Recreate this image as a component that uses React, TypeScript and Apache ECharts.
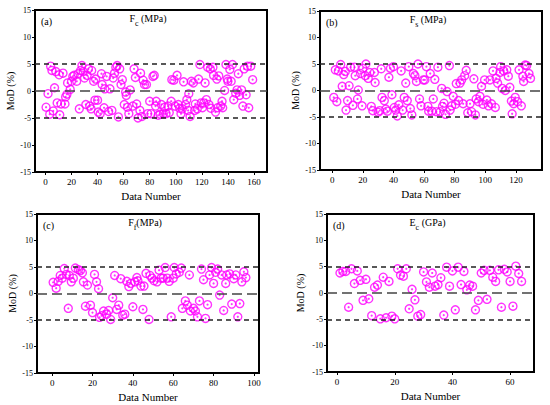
import React, { useEffect, useRef } from "react";
import * as echarts from "echarts";

const FONT = "Liberation Serif, Times New Roman, serif";
const MAGENTA = "#ff00ff";

const yTicks = [-15, -10, -5, 0, 5, 10, 15];
const refLines = [5, 0, -5];

const xTicksA = [0, 20, 40, 60, 80, 100, 120, 140, 160];
const xTicksB = [0, 20, 40, 60, 80, 100, 120];
const xTicksC = [0, 20, 40, 60, 80, 100];
const xTicksD = [0, 20, 40, 60];

const panelA: [number, number][] = [
  [0.5, -3.0], [2, -0.5], [3.3, -4.3], [4, 4.6], [5, 3.8], [6, -3.7], [7, 0.6], [8, 3.6], [9, -2.2], [10.5, 3.0],
  [11, -4.4], [12, -2.4], [13.5, 3.3], [15, -2.4], [15.5, -1.1], [16.5, -0.6], [17, 1.5], [19, 0.3], [20, 1.8], [21, 2.7],
  [22, 2.9], [24, 1.8], [25, 3.2], [26, -3.3], [27, 3.8], [28, 4.7], [29, 3.6], [30, 2.4], [31, -2.5], [32, 2.9],
  [33, 4.1], [34, -2.8], [35, -3.3], [35.5, 3.8], [37, 1.8], [38, -1.7], [38.5, 2.2], [40, -1.7], [40.5, -3.9], [42, -4.2],
  [43, 3.2], [43.5, 1.2], [45, -3.1], [45.5, 0.4], [47, 2.7], [48.5, -3.8], [49.5, 0.4], [51, -3.6], [52, 2.4], [53, 3.3],
  [54, 4.4], [55, 4.7], [56, -4.8], [57, 4.1], [58, 1.2], [59, 2.1], [60.5, -2.5], [61.5, -0.2], [62, -0.8], [63, -3.0],
  [64, -4.2], [65, 0.2], [67, -2.8], [68, 4.1], [69, 2.5], [70, -2.4], [71, -5.0], [72.5, -3.6], [73, 3.3], [74, -4.7],
  [75, 2.0], [76, 1.2], [77.5, 1.2], [78.5, -4.2], [80, -1.9], [81, -4.2], [82.5, 2.7], [83.5, 2.9], [84.5, -2.8], [85, -1.9],
  [86.5, -4.5], [88, -4.3], [89, -2.5], [90.5, -4.2], [91.5, -3.0], [92.5, -4.2], [94, -2.8], [95, -4.0], [96.5, -1.9], [97, 2.1],
  [98.5, 2.0], [99.5, -2.8], [101, 2.9], [102, -2.5], [103, -3.2], [104, -4.2], [105, -3.3], [106, 1.7], [107.5, -2.5], [108.5, -1.6],
  [109.5, -3.6], [110, -0.5], [111, -4.7], [112, 1.8], [113.5, 1.5], [114.5, -3.6], [115, -2.4], [116.5, -3.3], [117.5, 2.2], [118.5, 4.9],
  [119.5, -2.2], [120.5, -3.1], [121.5, -2.2], [122.5, 1.5], [123.5, -1.6], [124.5, 4.4], [125.5, -2.5], [126.5, 4.1], [127, -3.2], [128.5, 4.4],
  [129, 2.9], [130.5, -3.9], [131.5, 2.2], [132, -3.1], [133, 2.8], [134.5, -2.8], [135.5, -1.9], [136, -3.1], [137.5, 0.1], [138.5, 4.9],
  [139.5, 2.2], [140, 1.8], [141.5, 4.0], [142.5, 1.8], [143.5, 4.9], [144.5, -1.6], [146, -0.4], [147, 0.2], [148, 3.2], [149, -0.8],
  [150.5, 0.2], [151.5, -2.8], [152.5, 4.1], [154, -0.7], [155, 4.6], [156, -3.1], [157.5, 4.6], [159, 2.1],
];

const panelB: [number, number][] = [
  [1, -1.3], [2, 3.9], [3, -2.1], [4, 3.7], [5.5, 4.9], [6.5, 0.8], [7.5, 3.0], [8.5, 3.6], [9, -3.7], [10, -1.9],
  [11, 0.9], [12, 4.4], [13.5, -2.8], [14.5, 4.4], [15, 2.8], [16.5, -1.6], [17, 0.1], [18.5, 3.2], [19.5, -2.9], [20, 4.2],
  [21.5, 2.8], [22, 5.0], [23.5, 2.3], [24.5, 3.4], [25.5, -3.0], [26.5, -3.8], [27.5, 3.4], [28, 1.5], [30, -4.1], [31, -3.8],
  [32, 4.1], [32.5, -1.3], [34, -1.9], [35, -3.5], [36, -3.9], [37, 2.5], [38, 4.2], [39, -0.8], [40, 4.5], [40.5, -3.2],
  [41.5, -3.7], [42.5, -4.8], [43.5, -2.7], [45, 3.7], [46, -3.7], [47, -1.3], [48, 1.4], [49, -1.9], [50, 4.5], [51, -3.4],
  [52, -4.6], [53, 3.2], [54, 2.8], [55, 1.7], [56, 5.0], [57, -1.6], [58, -2.9], [59.5, 2.0], [60.5, 2.0], [61.5, 4.5],
  [62.5, -3.0], [63, -3.9], [64, 3.2], [65, -3.9], [66, -1.6], [67, 2.1], [68, -4.0], [69, 4.4], [70.5, -4.0], [71.5, 0.4],
  [72, -3.0], [73, -2.4], [74, -4.5], [75, -0.2], [76.5, 4.7], [77, -3.7], [78, -2.9], [79, -1.1], [80.5, -2.6], [81, 1.3],
  [82.5, -1.9], [83.5, 1.4], [84.5, 2.0], [85.5, -2.5], [86.5, 2.8], [87.5, 3.8], [88.5, -4.2], [90, -2.5], [91, -4.0], [92.5, 2.2],
  [93.5, -4.6], [94, -1.6], [95.5, -2.1], [96.5, -1.1], [97.5, 0.8], [98.5, -2.6], [99.5, 2.0], [101, -1.8], [102, -2.9], [103, 2.0],
  [104, -2.5], [105, 3.7], [106.5, -3.2], [107, 2.3], [108, 1.4], [109.5, 3.4], [110, 4.5], [111, 0.4], [112, 3.7], [113, 0.0],
  [114, 3.9], [115, 2.7], [116, 0.6], [117, -2.0], [117.5, -4.4], [118.5, -2.5], [119.5, -1.3], [121, -2.1], [122, 3.9], [123.5, -2.9],
  [124.5, 2.7], [125, 1.7], [126, 4.8], [127, 4.7], [128.5, 3.2], [129.5, 2.3],
];

const panelC: [number, number][] = [
  [0.5, 2.1], [2, 1.0], [3, 2.3], [4, 3.4], [5, 2.9], [6, 4.7], [7, 3.6], [8, -2.8], [8.5, 3.4], [9.5, 2.2],
  [10.5, 2.9], [11.5, 4.8], [13, 4.5], [14, 4.3], [15, 3.9], [15.5, 2.2], [16.5, -2.4], [17.5, 1.6], [19, -2.2], [20, -3.6],
  [21, 3.6], [22, 2.2], [23, 0.9], [23.5, -4.5], [24.5, -4.2], [25.5, -3.3], [27, -3.9], [28, -3.2], [29, -4.9], [30, -0.8],
  [31, 3.4], [32, -3.0], [33, -2.2], [34, 2.8], [35, -4.1], [36, -3.9], [37, 2.3], [38, 1.3], [39, 1.9], [40, -2.5],
  [41, 2.2], [42, 3.0], [42.5, 2.4], [44, 1.4], [45, -3.0], [45.5, 1.4], [46.5, 3.8], [48, -4.9], [48.5, 3.4], [49.5, 2.9],
  [50.5, 2.4], [52, 2.2], [53, 4.4], [54, 2.9], [55, 2.9], [56, 4.9], [57, 2.9], [58, 2.3], [59, -4.4], [60, 2.9],
  [60.5, 4.9], [61.5, 3.7], [63, 4.0], [64, 4.8], [64.5, -2.8], [66, -1.4], [67, -2.2], [68, 3.5], [68.5, -3.3], [70, -2.8],
  [71, -3.3], [72, -4.4], [73, -1.4], [74, 4.6], [75, 2.6], [76, -4.7], [77, -2.1], [78, 3.5], [79, 4.9], [80, 1.9],
  [81, 4.0], [82, 4.6], [83, -0.3], [84, 3.5], [85, -3.2], [86, 1.9], [86.5, 3.5], [88, 3.7], [89, -2.0], [90, 2.8],
  [91, 3.5], [92, -4.4], [93, -1.9], [94, 2.2], [95, 4.1], [96, 3.0],
];

const panelD: [number, number][] = [
  [1, 3.8], [2, 4.1], [3, 4.1], [4, -2.7], [5, 4.6], [6, 1.8], [7, 4.2], [8, 2.4], [9, -1.4], [10, 2.6],
  [11, -1.1], [12, -4.3], [13, 1.1], [14, 1.5], [15, -4.9], [16, 3.0], [17, -4.7], [18, 2.2], [19, -4.4], [20, -4.9],
  [21, 4.6], [22, 3.4], [23, 3.2], [24, 4.6], [25, -3.0], [26, 0.7], [27, -1.3], [28, -4.4], [29, -4.1], [30, 4.0],
  [31, 2.1], [32, 1.1], [33, 3.8], [34, 1.3], [35, 1.6], [36, 2.9], [37, -4.2], [38, 4.9], [39, 1.3], [40, 4.2],
  [41, -3.2], [42, 4.9], [43, 1.6], [44, 4.1], [45, 0.6], [46, 1.5], [47, 1.3], [48, -3.2], [49, -1.4], [50, 3.8],
  [51, 4.3], [52, -1.2], [53, 4.3], [54, 3.0], [55, 2.2], [56, 4.4], [57, -2.7], [58, 4.5], [59, 4.0], [60, 2.2],
  [61, -2.5], [62, 5.1], [63, 3.7], [64, 2.2],
];

const panelLetters = ["(a)", "(b)", "(c)", "(d)"];
const panelSymbols = ["F", "F", "F", "E"];
const panelSubs = ["c", "s", "f", "c"];
const panelUnits = [" (MPa)", " (MPa)", "(MPa)", " (GPa)"];
const panelData = [panelA, panelB, panelC, panelD];
const panelXTicks = [xTicksA, xTicksB, xTicksC, xTicksD];
const panelXRange: [number, number][] = [[-8, 170], [-8, 137], [-7.5, 102.5], [-3.5, 68.3]];

// layout (pixels): left, top, width, height
const layout = [
  { left: 35, top: 10, width: 232, height: 162, yGap: 20 },
  { left: 320, top: 11, width: 222, height: 159, yGap: 20 },
  { left: 37, top: 214, width: 222, height: 159, yGap: 20 },
  { left: 327, top: 214, width: 207, height: 158, yGap: 22 },
];

export default function App() {
  const ref = useRef<HTMLDivElement>(null);
  useEffect(() => {
    if (!ref.current) return;
    const chart = echarts.init(ref.current, undefined, { renderer: "svg" });

    const grids = layout.map((l) => ({
      left: l.left,
      top: l.top,
      width: l.width,
      height: l.height,
      show: true,
      borderColor: "#000",
      borderWidth: 2,
      backgroundColor: "transparent",
      containLabel: false,
    }));

    const xAxes = layout.map((l, i) => ({
      gridIndex: i,
      type: "value",
      min: panelXRange[i][0],
      max: panelXRange[i][1],
      name: "Data Number",
      nameLocation: "middle",
      nameGap: 18,
      nameTextStyle: { fontSize: 11, fontFamily: FONT, fontWeight: "normal", color: "#000" },
      axisLine: { show: true, onZero: false, lineStyle: { color: "#000", width: 1.5 } },
      axisTick: { show: true, inside: false, length: 3, customValues: panelXTicks[i], lineStyle: { color: "#000" } },
      axisLabel: { show: true, customValues: panelXTicks[i], fontSize: 9, fontFamily: FONT, fontWeight: "normal", color: "#000", margin: 5 },
      splitLine: { show: false },
    }));

    const yAxes = layout.map((l, i) => ({
      gridIndex: i,
      type: "value",
      min: yTicks[0],
      max: yTicks[yTicks.length - 1],
      interval: 5,
      name: "MoD (%)",
      nameLocation: "middle",
      nameRotate: 90,
      nameGap: l.yGap,
      nameTextStyle: { fontSize: 10, fontFamily: FONT, fontWeight: "normal", color: "#000" },
      axisLine: { show: true, onZero: false, lineStyle: { color: "#000", width: 1.5 } },
      axisTick: { show: true, inside: false, length: 3, lineStyle: { color: "#000" } },
      axisLabel: { fontSize: 8, fontFamily: FONT, fontWeight: "normal", color: "#000", margin: 4 },
      splitLine: { show: false },
    }));

    const series: any[] = [];
    panelData.forEach((data, i) => {
      series.push({
        type: "scatter",
        xAxisIndex: i,
        yAxisIndex: i,
        data,
        symbol: "circle",
        symbolSize: 8,
        itemStyle: { color: "rgba(255,255,255,0)", borderColor: MAGENTA, borderWidth: 1.4 },
        z: 3,
        markLine: {
          silent: true,
          symbol: ["none", "none"],
          label: { show: false },
          animation: false,
          lineStyle: { color: "#222", width: 1.5, type: [5, 4] },
          data: refLines.map((v) =>
            v === 0
              ? { yAxis: v, lineStyle: { color: "#444", width: 1.5, type: [10, 5] } }
              : { yAxis: v }
          ),
        },
      });
      series.push({
        type: "scatter",
        xAxisIndex: i,
        yAxisIndex: i,
        data,
        symbol: "circle",
        symbolSize: 2.2,
        itemStyle: { color: MAGENTA },
        z: 4,
      });
    });

    const graphics: any[] = [];
    layout.forEach((l, i) => {
      graphics.push({
        type: "text",
        x: l.left + 6,
        y: l.top + 11,
        style: {
          text: panelLetters[i],
          font: `10px ${FONT}`,
          fill: "#000",
          verticalAlign: "middle",
        },
      });
      graphics.push({
        type: "text",
        x: l.left + l.width / 2 - 3,
        y: l.top + 10,
        style: {
          text: `{m|${panelSymbols[i]}}{s|${panelSubs[i]}}{m|${panelUnits[i]}}`,
          align: "center",
          verticalAlign: "middle",
          rich: {
            m: { fontSize: 10, fontFamily: FONT, fill: "#000", color: "#000", verticalAlign: "top", lineHeight: 12 },
            s: { fontSize: 8, fontFamily: FONT, fill: "#000", color: "#000", verticalAlign: "bottom", lineHeight: 14 },
          },
        },
      });
    });

    chart.setOption({
      animation: false,
      backgroundColor: "#fff",
      textStyle: { fontFamily: FONT },
      grid: grids,
      xAxis: xAxes,
      yAxis: yAxes,
      series,
      graphic: graphics,
    });

    return () => chart.dispose();
  }, []);

  return (
    <div
      ref={ref}
      style={{ position: "fixed", left: 0, top: 0, width: 550, height: 405, background: "#fff" }}
    />
  );
}
